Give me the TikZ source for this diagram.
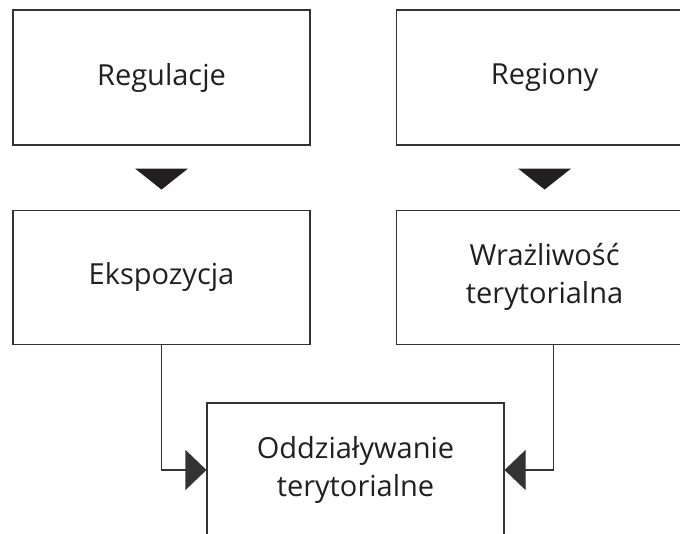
\documentclass[tikz,border=0pt]{standalone}
\usepackage{fontspec}
\setmainfont{Open Sans}
\usetikzlibrary{arrows.meta, positioning, calc}
\definecolor{cink}{HTML}{231F20}
\definecolor{cline}{HTML}{333333}
\tikzset{
  every picture/.style={font=\fontsize{29}{38}\selectfont, line width=1.1pt},
  box/.style={draw=cline, text=cink, align=center, minimum width=297pt, minimum height=#1, inner sep=0pt},
  box/.default=135pt,
  arrow/.style={-{Triangle[length=21pt, width=40pt]}, draw=cline, line width=1.1pt},
  drop/.style={fill=cink, draw=none},
}
\begin{document}
\begin{tikzpicture}[x=1pt, y=-1pt]
  \useasboundingbox (0,0) rectangle (680,534);
  % top row
  \node[box] (reg) at (161.5,77.5) {Regulacje};
  \node[box, right=85pt of reg] (rgn) {Regiony};
  % middle row
  \node[box=134pt, below=64pt of reg] (eks) {Ekspozycja};
  \node[box=134pt, below=64pt of rgn] (wra) {Wrażliwość\\terytorialna};
  % bottom
  \node[box=134pt] (odd) at (355.5,470) {Oddziaływanie\\terytorialne};
  % the two down triangles
  \fill[drop] ($(reg.south)+(-26.5,23)$) -- ++(53,0) -- ++(-26.5,21) -- cycle;
  \fill[drop] ($(rgn.south)+(-26.5,23)$) -- ++(53,0) -- ++(-26.5,21) -- cycle;
  % connectors
  \draw[arrow] (eks.south) |- (odd.west);
  \draw[arrow] ($(wra.south)+(8.5,0)$) |- (odd.east);
\end{tikzpicture}
\end{document}
